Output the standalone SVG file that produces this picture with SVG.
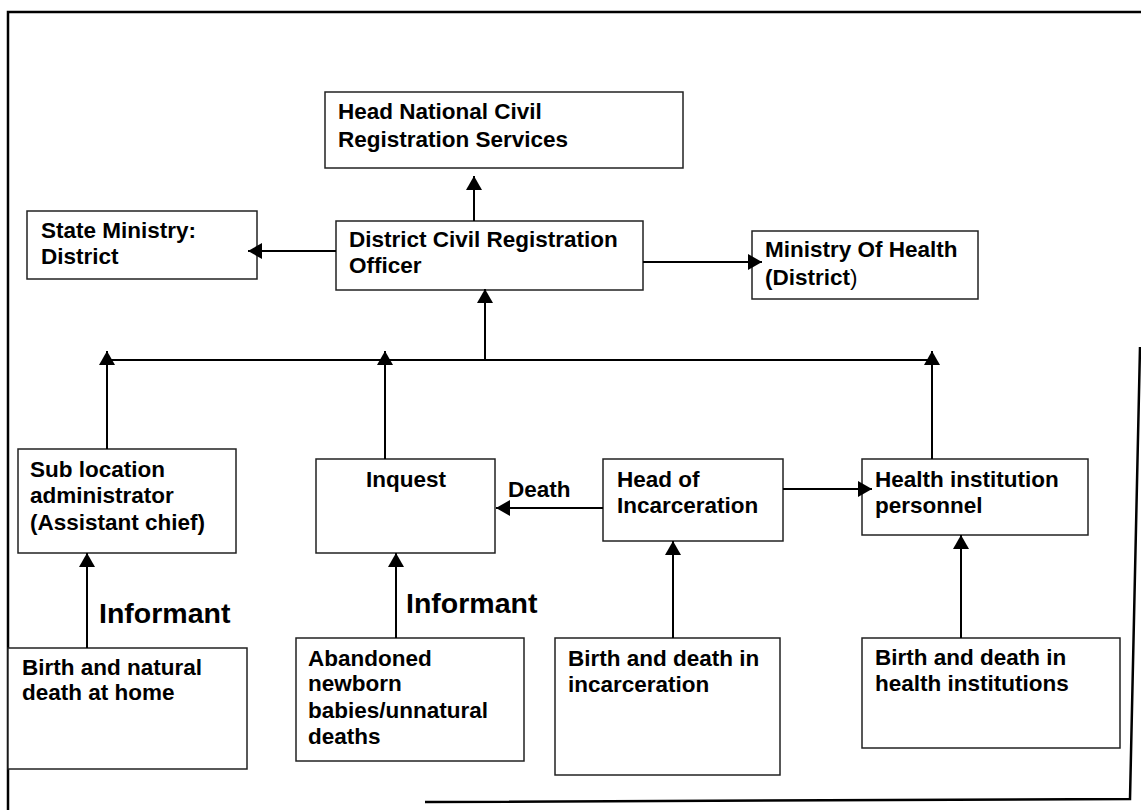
<svg xmlns="http://www.w3.org/2000/svg" width="1141" height="810" viewBox="0 0 1141 810">
  <style>
    .box { fill: #ffffff; stroke: #222222; stroke-width: 1.5; }
    .lbl { font-family: "Liberation Sans", Arial, sans-serif; font-weight: bold; font-size: 22.5px; fill: #000000; }
    .big { font-family: "Liberation Sans", Arial, sans-serif; font-weight: bold; font-size: 28.5px; fill: #000000; }
    .wire { fill: none; stroke: #000000; stroke-width: 2; }
    .frame { fill: none; stroke: #000000; stroke-width: 2.5; }
  </style>
  <defs>
    <marker id="arrow" viewBox="0 0 14 16" markerUnits="userSpaceOnUse" markerWidth="14" markerHeight="16" refX="14" refY="8" orient="auto" overflow="visible">
      <path d="M0,0 L14,8 L0,16 z" fill="#000000"/>
    </marker>
  </defs>

  <rect width="1141" height="810" fill="#ffffff"/>

  <!-- page border -->
  <g id="border">
    <path class="frame" d="M8,810 L8,12 L1141,12"/>
    <path class="frame" d="M1140,347 L1130,799 L425,802"/>
  </g>

  <g id="head-national">
    <rect class="box" x="325" y="92" width="358" height="76"/>
    <text class="lbl" x="338" y="119">Head National Civil</text>
    <text class="lbl" x="338" y="147">Registration Services</text>
  </g>

  <g id="district-officer">
    <rect class="box" x="336" y="221" width="307" height="69"/>
    <text class="lbl" x="349" y="247">District Civil Registration</text>
    <text class="lbl" x="349" y="273">Officer</text>
  </g>

  <g id="state-ministry">
    <rect class="box" x="27" y="211" width="230" height="68"/>
    <text class="lbl" x="41" y="238">State Ministry:</text>
    <text class="lbl" x="41" y="264">District</text>
  </g>

  <g id="ministry-health">
    <rect class="box" x="752" y="231" width="226" height="68"/>
    <text class="lbl" x="765" y="257">Ministry Of Health</text>
    <text class="lbl" x="765" y="285">(District<tspan font-weight="normal">)</tspan></text>
  </g>

  <g id="sub-location">
    <rect class="box" x="18" y="449" width="218" height="104"/>
    <text class="lbl" x="30" y="477">Sub location</text>
    <text class="lbl" x="30" y="503">administrator</text>
    <text class="lbl" x="30" y="530">(Assistant chief)</text>
  </g>

  <g id="inquest">
    <rect class="box" x="316" y="459" width="179" height="94"/>
    <text class="lbl" x="406" y="487" text-anchor="middle">Inquest</text>
  </g>

  <g id="head-incarceration">
    <rect class="box" x="603" y="459" width="180" height="82"/>
    <text class="lbl" x="617" y="487">Head of</text>
    <text class="lbl" x="617" y="513">Incarceration</text>
  </g>

  <g id="health-personnel">
    <rect class="box" x="862" y="459" width="226" height="76"/>
    <text class="lbl" x="875" y="487">Health institution</text>
    <text class="lbl" x="875" y="513">personnel</text>
  </g>

  <g id="home-events">
    <rect class="box" x="8" y="648" width="239" height="121"/>
    <text class="lbl" x="22" y="675">Birth and natural</text>
    <text class="lbl" x="22" y="700">death at home</text>
  </g>

  <g id="abandoned">
    <rect class="box" x="296" y="638" width="228" height="123"/>
    <text class="lbl" x="308" y="666">Abandoned</text>
    <text class="lbl" x="308" y="691">newborn</text>
    <text class="lbl" x="308" y="718">babies/unnatural</text>
    <text class="lbl" x="308" y="744">deaths</text>
  </g>

  <g id="incarceration-events">
    <rect class="box" x="555" y="638" width="225" height="137"/>
    <text class="lbl" x="568" y="666">Birth and death in</text>
    <text class="lbl" x="568" y="692">incarceration</text>
  </g>

  <g id="health-events">
    <rect class="box" x="862" y="638" width="258" height="110"/>
    <text class="lbl" x="875" y="665">Birth and death in</text>
    <text class="lbl" x="875" y="691">health institutions</text>
  </g>

  <!-- connectors, drawn last so heads that reach into a box stay visible -->
  <g id="connectors">
    <line class="wire" x1="474" y1="221" x2="474" y2="176" marker-end="url(#arrow)"/>
    <line class="wire" x1="336" y1="251" x2="248" y2="251" marker-end="url(#arrow)"/>
    <line class="wire" x1="643" y1="262" x2="762" y2="262" marker-end="url(#arrow)"/>
    <line class="wire" x1="485" y1="360" x2="485" y2="289" marker-end="url(#arrow)"/>
    <line class="wire" x1="107" y1="360" x2="932" y2="360"/>
    <line class="wire" x1="107" y1="449" x2="107" y2="351" marker-end="url(#arrow)"/>
    <line class="wire" x1="385" y1="459" x2="385" y2="351" marker-end="url(#arrow)"/>
    <line class="wire" x1="932" y1="459" x2="932" y2="351" marker-end="url(#arrow)"/>
    <line class="wire" x1="603" y1="508" x2="496" y2="508" marker-end="url(#arrow)"/>
    <line class="wire" x1="783" y1="489" x2="872" y2="489" marker-end="url(#arrow)"/>
    <line class="wire" x1="87" y1="648" x2="87" y2="553" marker-end="url(#arrow)"/>
    <line class="wire" x1="396" y1="638" x2="396" y2="553" marker-end="url(#arrow)"/>
    <line class="wire" x1="673" y1="638" x2="673" y2="541" marker-end="url(#arrow)"/>
    <line class="wire" x1="961" y1="638" x2="961" y2="535" marker-end="url(#arrow)"/>
    <text class="lbl" x="508" y="497">Death</text>
    <text class="big" x="99" y="623">Informant</text>
    <text class="big" x="406" y="613">Informant</text>
  </g>
</svg>
